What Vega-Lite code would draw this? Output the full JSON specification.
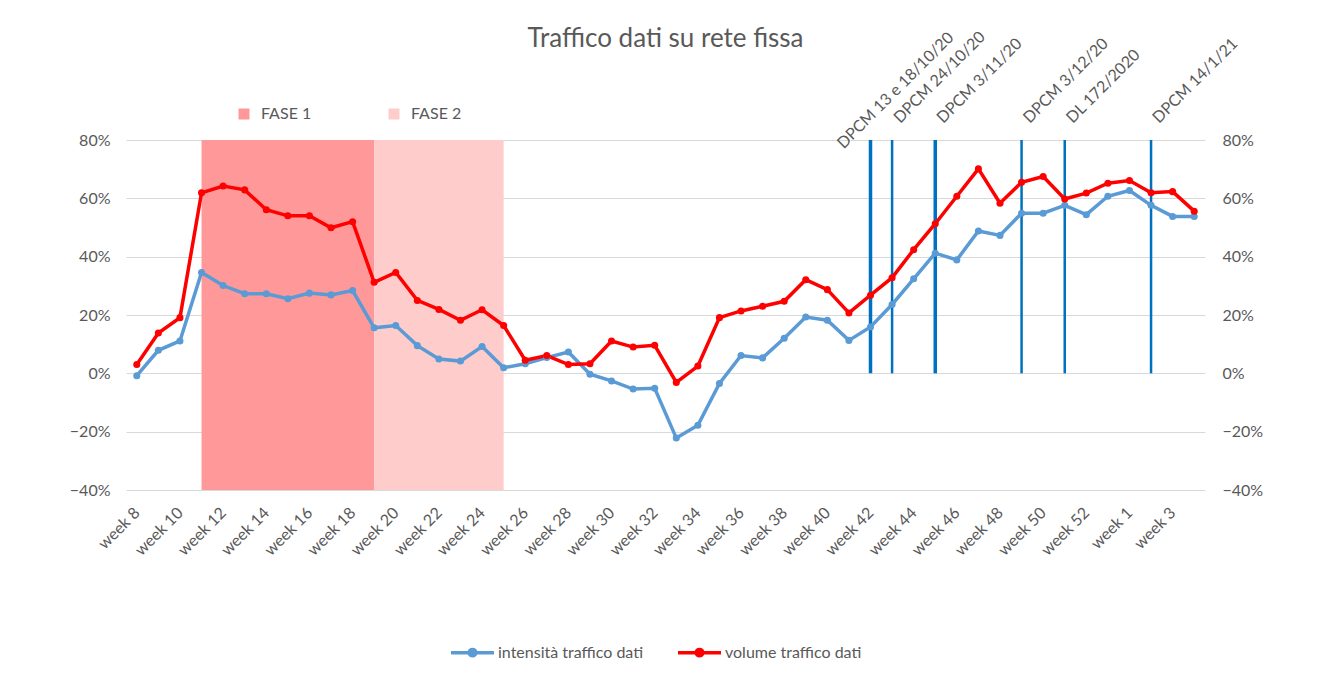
{
  "$schema": "https://vega.github.io/schema/vega-lite/v6.json",
  "autosize": "none",
  "width": 1079,
  "height": 350,
  "padding": {"left": 126, "top": 140, "right": 123, "bottom": 189},
  "background": "white",
  "config": {
    "font": "Lato",
    "view": {"stroke": null},
    "axis": {"labelFont": "Lato", "labelFontSize": 16, "labelColor": "#595959"},
    "legend": {"labelFont": "Lato", "labelFontSize": 16, "labelColor": "#595959"}
  },
  "title": {
    "text": "Traffico dati su rete fissa",
    "font": "Lato",
    "fontSize": 26,
    "fontWeight": "normal",
    "color": "#595959",
    "anchor": "middle",
    "frame": "group",
    "baseline": "alphabetic",
    "offset": -44
  },
  "datasets": {
    "traffico": [
      {"i": 0, "week": "week 8", "intensita": -0.008, "volume": 0.030},
      {"i": 1, "week": "week 9", "intensita": 0.079, "volume": 0.138},
      {"i": 2, "week": "week 10", "intensita": 0.111, "volume": 0.191},
      {"i": 3, "week": "week 11", "intensita": 0.346, "volume": 0.619},
      {"i": 4, "week": "week 12", "intensita": 0.301, "volume": 0.642},
      {"i": 5, "week": "week 13", "intensita": 0.273, "volume": 0.629},
      {"i": 6, "week": "week 14", "intensita": 0.273, "volume": 0.561},
      {"i": 7, "week": "week 15", "intensita": 0.256, "volume": 0.540},
      {"i": 8, "week": "week 16", "intensita": 0.275, "volume": 0.540},
      {"i": 9, "week": "week 17", "intensita": 0.269, "volume": 0.499},
      {"i": 10, "week": "week 18", "intensita": 0.284, "volume": 0.520},
      {"i": 11, "week": "week 19", "intensita": 0.156, "volume": 0.312},
      {"i": 12, "week": "week 20", "intensita": 0.164, "volume": 0.346},
      {"i": 13, "week": "week 21", "intensita": 0.095, "volume": 0.250},
      {"i": 14, "week": "week 22", "intensita": 0.049, "volume": 0.219},
      {"i": 15, "week": "week 23", "intensita": 0.042, "volume": 0.182},
      {"i": 16, "week": "week 24", "intensita": 0.092, "volume": 0.218},
      {"i": 17, "week": "week 25", "intensita": 0.019, "volume": 0.164},
      {"i": 18, "week": "week 26", "intensita": 0.033, "volume": 0.045},
      {"i": 19, "week": "week 27", "intensita": 0.054, "volume": 0.061},
      {"i": 20, "week": "week 28", "intensita": 0.073, "volume": 0.030},
      {"i": 21, "week": "week 29", "intensita": -0.003, "volume": 0.033},
      {"i": 22, "week": "week 30", "intensita": -0.026, "volume": 0.111},
      {"i": 23, "week": "week 31", "intensita": -0.054, "volume": 0.090},
      {"i": 24, "week": "week 32", "intensita": -0.051, "volume": 0.096},
      {"i": 25, "week": "week 33", "intensita": -0.222, "volume": -0.031},
      {"i": 26, "week": "week 34", "intensita": -0.178, "volume": 0.025},
      {"i": 27, "week": "week 35", "intensita": -0.035, "volume": 0.191},
      {"i": 28, "week": "week 36", "intensita": 0.061, "volume": 0.214},
      {"i": 29, "week": "week 37", "intensita": 0.053, "volume": 0.230},
      {"i": 30, "week": "week 38", "intensita": 0.120, "volume": 0.247},
      {"i": 31, "week": "week 39", "intensita": 0.193, "volume": 0.321},
      {"i": 32, "week": "week 40", "intensita": 0.182, "volume": 0.287},
      {"i": 33, "week": "week 41", "intensita": 0.113, "volume": 0.207},
      {"i": 34, "week": "week 42", "intensita": 0.159, "volume": 0.268},
      {"i": 35, "week": "week 43", "intensita": 0.236, "volume": 0.328},
      {"i": 36, "week": "week 44", "intensita": 0.324, "volume": 0.424},
      {"i": 37, "week": "week 45", "intensita": 0.412, "volume": 0.513},
      {"i": 38, "week": "week 46", "intensita": 0.389, "volume": 0.607},
      {"i": 39, "week": "week 47", "intensita": 0.488, "volume": 0.701},
      {"i": 40, "week": "week 48", "intensita": 0.473, "volume": 0.583},
      {"i": 41, "week": "week 49", "intensita": 0.549, "volume": 0.655},
      {"i": 42, "week": "week 50", "intensita": 0.549, "volume": 0.675},
      {"i": 43, "week": "week 51", "intensita": 0.576, "volume": 0.598},
      {"i": 44, "week": "week 52", "intensita": 0.544, "volume": 0.618},
      {"i": 45, "week": "week 53", "intensita": 0.607, "volume": 0.652},
      {"i": 46, "week": "week 1", "intensita": 0.627, "volume": 0.661},
      {"i": 47, "week": "week 2", "intensita": 0.576, "volume": 0.619},
      {"i": 48, "week": "week 3", "intensita": 0.538, "volume": 0.623},
      {"i": 49, "week": "week 4", "intensita": 0.538, "volume": 0.556}
    ],
    "fasi": [
      {"fase": "FASE 1", "start": 3, "end": 11},
      {"fase": "FASE 2", "start": 11, "end": 17}
    ],
    "eventi": [
      {"i": 34, "label": "DPCM 13 e 18/10/20"},
      {"i": 35, "label": "DPCM 24/10/20"},
      {"i": 37, "label": "DPCM 3/11/20"},
      {"i": 41, "label": "DPCM 3/12/20"},
      {"i": 43, "label": "DL 172/2020"},
      {"i": 47, "label": "DPCM 14/1/21"}
    ]
  },
  "layer": [
    {
      "data": {"name": "fasi"},
      "mark": {"type": "rect"},
      "encoding": {
        "x": {"field": "start", "type": "quantitative", "title": null,
              "scale": {"domain": [-0.5, 49.5], "nice": false, "zero": false}},
        "x2": {"field": "end"},
        "y": {"datum": -0.4, "type": "quantitative", "title": null,
              "scale": {"domain": [-0.4, 0.8], "nice": false, "zero": false},
              "axis": {"orient": "left", "values": [-0.4, -0.2, 0, 0.2, 0.4, 0.6, 0.8], "format": ".0%",
                       "grid": true, "gridColor": "#D9D9D9", "gridWidth": 1, "domain": false, "ticks": false,
                       "labelPadding": 16}},
        "y2": {"datum": 0.8},
        "fill": {"field": "fase", "type": "nominal",
                 "scale": {"domain": ["FASE 1", "FASE 2"], "range": ["#FF9999", "#FFCCCC"]},
                 "legend": {"orient": "none", "legendX": 110, "legendY": -34, "direction": "horizontal",
                            "title": null, "symbolType": "square", "symbolSize": 121, "symbolStrokeWidth": 0,
                            "labelOffset": 9, "columnPadding": 74, "padding": 0}}
      }
    },
    {
      "mark": {"type": "rule", "color": "#D9D9D9", "strokeWidth": 1},
      "encoding": {
        "y": {"datum": 0, "type": "quantitative", "axis": null}
      }
    },
    {
      "data": {"name": "eventi"},
      "mark": {"type": "rule", "color": "#0070C0"},
      "encoding": {
        "x": {"field": "i", "type": "quantitative", "title": null},
        "y": {"datum": 0.8, "type": "quantitative", "axis": null},
        "y2": {"datum": 0},
        "strokeWidth": {"condition": {"test": "datum.i == 34 || datum.i == 37", "value": 3.5}, "value": 2.5}
      }
    },
    {
      "mark": {"type": "rule", "color": "#A6A6A6", "strokeWidth": 1, "clip": false},
      "encoding": {
        "x": {"datum": 34.1, "type": "quantitative", "title": null},
        "x2": {"datum": 35.3},
        "y": {"datum": 0.805, "type": "quantitative", "axis": null},
        "y2": {"datum": 0.884}
      }
    },
    {
      "data": {"name": "eventi"},
      "transform": [{"filter": "datum.i != 34"}],
      "mark": {"type": "text", "angle": -45, "align": "left", "baseline": "alphabetic",
               "dx": 5.7, "dy": 5.7, "font": "Lato", "fontSize": 16, "color": "#595959", "clip": false},
      "encoding": {
        "x": {"field": "i", "type": "quantitative", "title": null},
        "y": {"datum": 0.855, "type": "quantitative", "axis": null},
        "text": {"field": "label"}
      }
    },
    {
      "data": {"name": "eventi"},
      "transform": [{"filter": "datum.i == 34"}],
      "mark": {"type": "text", "angle": -45, "align": "left", "baseline": "alphabetic",
               "dx": -37, "dy": -1, "font": "Lato", "fontSize": 16, "color": "#595959", "clip": false},
      "encoding": {
        "x": {"field": "i", "type": "quantitative", "title": null},
        "y": {"datum": 0.855, "type": "quantitative", "axis": null},
        "text": {"field": "label"}
      }
    },
    {
      "data": {"name": "traffico"},
      "transform": [{"fold": ["intensita", "volume"], "as": ["serie", "valore"]}],
      "mark": {"type": "line", "strokeWidth": 3.5, "point": {"filled": true, "size": 50}},
      "encoding": {
        "x": {"field": "i", "type": "quantitative", "title": null,
              "axis": {"values": [0, 2, 4, 6, 8, 10, 12, 14, 16, 18, 20, 22, 24, 26, 28, 30, 32, 34, 36, 38, 40, 42, 44, 46, 48],
                       "labelExpr": "datum.value <= 45 ? 'week ' + (datum.value + 8) : 'week ' + (datum.value - 45)",
                       "labelAngle": -45, "labelAlign": "right", "labelBaseline": "middle", "labelPadding": 20,
                       "labelOverlap": false, "ticks": false, "domain": false, "grid": false}},
        "y": {"field": "valore", "type": "quantitative", "title": null,
              "axis": {"orient": "right", "values": [-0.4, -0.2, 0, 0.2, 0.4, 0.6, 0.8], "format": ".0%",
                       "grid": false, "domain": false, "ticks": false, "labelPadding": 17}},
        "color": {"field": "serie", "type": "nominal",
                  "scale": {"domain": ["intensita", "volume"], "range": ["#5B9BD5", "#FF0000"]},
                  "legend": {"orient": "none", "legendX": 323, "legendY": 489, "direction": "horizontal",
                             "title": null, "padding": 0,
                             "symbolType": "M-1,0H1M-0.15,0A0.15,0.15,0,1,0,0.15,0A0.15,0.15,0,1,0,-0.15,0",
                             "symbolSize": 1849, "symbolStrokeWidth": 3.5, "labelOffset": 2, "columnPadding": 27,
                             "labelExpr": "datum.label == 'intensita' ? 'intensità traffico dati' : 'volume traffico dati'"}}
      }
    }
  ],
  "resolve": {"axis": {"y": "independent"}}
}
